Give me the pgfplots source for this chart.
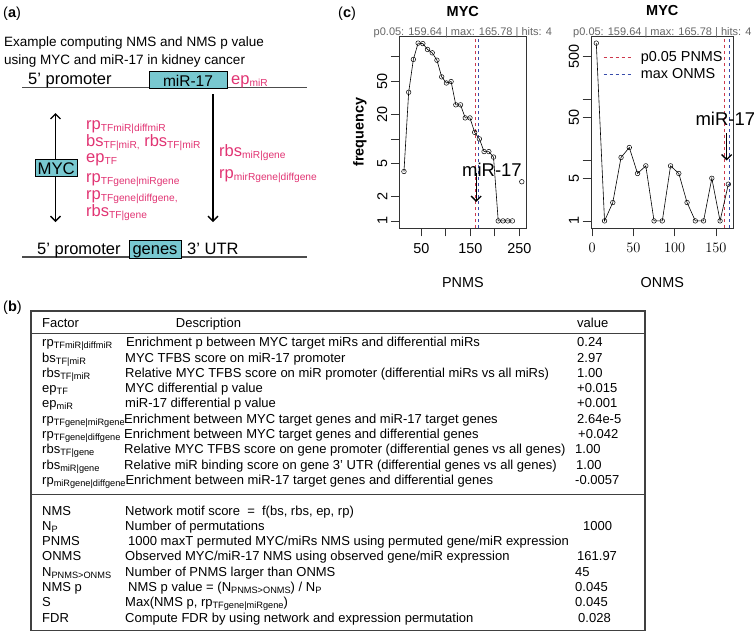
\documentclass[border=0pt]{standalone}
\usepackage{pgfplots}
\pgfplotsset{compat=1.18}
\usepackage{fontspec}
\setmainfont{Liberation Sans}
\usetikzlibrary{arrows.meta}
\definecolor{pk}{RGB}{225,52,115}
\definecolor{cy}{RGB}{120,200,208}
\definecolor{dred}{RGB}{205,55,75}
\definecolor{dblue}{RGB}{55,75,170}
\newcommand{\fs}[1]{\fontsize{#1}{#1}\selectfont}
\newcommand{\sa}[1]{\raisebox{-2.2pt}{\fs{10.2}#1}}
\newcommand{\st}[1]{\raisebox{-2pt}{\fs{9.2}#1}}
\pgfplotsset{rstyle/.style={
  scale only axis, height=192pt, yminorticks=false,
  tick pos=left, tick align=outside, major tick length=8.5pt,
  axis line style={black!80, line width=0.7pt},
  major tick style={black!80, line width=0.7pt},
  ticklabel style={font=\fs{14.4}},
  xticklabel style={yshift=-3pt},
  yticklabel style={rotate=90, anchor=south},
  clip=false}}
\begin{document}
\begin{tikzpicture}
\path[use as bounding box] (0pt,0pt) rectangle (754pt,-633pt);
\begin{scope}[x=1pt,y=-1pt, T/.style={inner sep=0pt, anchor=base west}, R/.style={T, font=\fs{13}}]
% ---------- (a)
\node[T] at (3,17.5) {\fs{14.5}(\textbf{a})};
\node[T] at (4,46) {\fs{13.5}Example computing NMS and NMS p value};
\node[T] at (4,64) {\fs{13.5}using MYC and miR-17 in kidney cancer};
\draw[line width=1.2pt, black!70] (22,87.5) -- (307,87.5);
\node[T] at (28,84) {\fs{16.5}5’ promoter};
\draw[fill=cy, line width=0.8pt] (149,71) rectangle (227,88);
\node[T, anchor=base] at (188,86) {\fs{15.5}miR-17};
\node[T, text=pk] at (231,84.5) {\fs{16.5}ep\sa{miR}};
\draw[line width=1.3pt, -{Straight Barb[length=5pt,width=10pt]}] (213,94) -- (213,222);
\draw[line width=1.3pt, -{Straight Barb[length=5pt,width=10pt]}] (55.5,159) -- (55.5,113);
\draw[line width=1.3pt, -{Straight Barb[length=5pt,width=10pt]}] (55.5,177) -- (55.5,222);
\draw[fill=cy, line width=0.9pt] (35,159.3) rectangle (77.3,176.7);
\node[T, anchor=base] at (56.2,174.2) {\fs{16.8}MYC};
\node[T, text=pk] at (86,129.5) {\fs{16.5}rp\sa{TFmiR|diffmiR}};
\node[T, text=pk] at (86,146.5) {\fs{16.5}bs\sa{TF|miR,} rbs\sa{TF|miR}};
\node[T, text=pk] at (86,162.5) {\fs{16.5}ep\sa{TF}};
\node[T, text=pk] at (86,182.5) {\fs{16.5}rp\sa{TFgene|miRgene}};
\node[T, text=pk] at (86,199) {\fs{16.5}rp\sa{TFgene|diffgene,}};
\node[T, text=pk] at (86,216.5) {\fs{16.5}rbs\sa{TF|gene}};
\node[T, text=pk] at (219,156.7) {\fs{16.5}rbs\sa{miR|gene}};
\node[T, text=pk] at (219,178.3) {\fs{16.5}rp\sa{mirRgene|diffgene}};
\draw[line width=1.2pt, black!70] (22,257) -- (307,257);
\node[T] at (37,254.5) {\fs{16.5}5’ promoter};
\draw[fill=cy, line width=0.8pt] (129,240) rectangle (181,258);
\node[T, anchor=base] at (155,254) {\fs{16.5}genes};
\node[T] at (187,254.5) {\fs{16.5}3’ UTR};
% ---------- (b)
\node[T] at (3,311) {\fs{14.5}(\textbf{b})};
\draw[line width=1.1pt, black!75] (31,311) rectangle (645,630.5);
\draw[line width=0.8pt, black!75] (31,333) -- (645,333);
\draw[line width=0.8pt, black!75] (31,494.5) -- (645,494.5);
\node[R] at (42,327.7) {Factor};
\node[R, anchor=base] at (208.5,327.7) {Description};
\node[R] at (577,327.7) {value};
\node[R] at (42,346.7) {rp\st{TFmiR|diffmiR}};
\node[R] at (126,346.7) {Enrichment p between MYC target miRs and differential miRs};
\node[R] at (577,346.7) {0.24};
\node[R] at (42,362) {bs\st{TF|miR}};
\node[R] at (125,362) {MYC TFBS score on miR-17 promoter};
\node[R] at (577,362) {2.97};
\node[R] at (42,377.3) {rbs\st{TF|miR}};
\node[R] at (125,377.3) {Relative MYC TFBS score on miR promoter (differential miRs vs all miRs)};
\node[R] at (577,377.3) {1.00};
\node[R] at (42,392.6) {ep\st{TF}};
\node[R] at (125,392.6) {MYC differential p value};
\node[R] at (577,392.6) {+0.015};
\node[R] at (42,407.9) {ep\st{miR}};
\node[R] at (125,407.9) {miR-17 differential p value};
\node[R] at (577,407.9) {+0.001};
\node[R] at (42,423.2) {rp\st{TFgene|miRgene}};
\node[R] at (124,423.2) {Enrichment between MYC target genes and miR-17 target genes};
\node[R] at (577,423.2) {2.64e-5};
\node[R] at (42,438.5) {rp\st{TFgene|diffgene}};
\node[R] at (124,438.5) {Enrichment between MYC target genes and differential genes};
\node[R] at (578,438.5) {+0.042};
\node[R] at (42,453.8) {rbs\st{TF|gene}};
\node[R] at (124,453.8) {Relative MYC TFBS score on gene promoter (differential genes vs all genes)};
\node[R] at (575,453.8) {1.00};
\node[R] at (42,469.1) {rbs\st{miR|gene}};
\node[R] at (124,469.1) {Relative miR binding score on gene 3’ UTR (differential genes vs all genes)};
\node[R] at (576,469.1) {1.00};
\node[R] at (42,484.4) {rp\st{miRgene|diffgene}Enrichment between miR-17 target genes and differential genes};
\node[R] at (575,484.4) {-0.0057};
\node[R] at (42,515) {NMS};
\node[R] at (125,515) {Network motif score \ = \ f(bs, rbs, ep, rp)};
\node[R] at (42,530.3) {N\st{P}};
\node[R] at (125,530.3) {Number of permutations};
\node[R] at (583,530.3) {1000};
\node[R] at (42,545.6) {PNMS};
\node[R] at (128,545.6) {1000 maxT permuted MYC/miRs NMS using permuted gene/miR expression};
\node[R] at (42,560.9) {ONMS};
\node[R] at (125,560.9) {Observed MYC/miR-17 NMS using observed gene/miR expression};
\node[R] at (577,560.9) {161.97};
\node[R] at (42,576.2) {N\st{PNMS>ONMS}};
\node[R] at (125,576.2) {Number of PNMS larger than ONMS};
\node[R] at (575,576.2) {45};
\node[R] at (42,591.5) {NMS p};
\node[R] at (128,591.5) {NMS p value = (N\st{PNMS>ONMS}) / N\st{P}};
\node[R] at (575,591.5) {0.045};
\node[R] at (42,606.8) {S};
\node[R] at (125,606.8) {Max(NMS p, rp\st{TFgene|miRgene})};
\node[R] at (575,606.8) {0.045};
\node[R] at (42,622.1) {FDR};
\node[R] at (125,622.1) {Compute FDR by using network and expression permutation};
\node[R] at (578,622.1) {0.028};
% ---------- (c)
\node[T] at (338,17.5) {\fs{14.5}(\textbf{c})};
\node[rotate=90, font=\bfseries\fs{14.4}] at (360,132) {frequency};
\end{scope}
% ---------- left plot
\begin{axis}[rstyle, ymode=log, at={(399.3pt,-228pt)}, anchor=south west, width=127pt,
  xmin=5.1, xmax=264.3, ymin=0.819, ymax=179.4,
  xtick={50,100,150,200,250}, xticklabels={50,,150,,250},
  ytick={1,2,5,10,20,50,100}, yticklabels={1,2,5,,20,50,}]
\addplot[black, line width=0.6pt, mark=o, mark size=2.3pt, mark options={fill=white, line width=0.5pt}] coordinates {
(14.6,4) (24.2,37) (33.8,93) (43.5,147) (53.1,145) (62.7,123) (72.3,112) (81.9,91)
(91.6,57) (101.2,48) (110.8,50) (120.4,26) (130.0,26) (139.7,18) (149.3,18) (158.9,12)
(168.5,10) (178.1,7) (187.8,7) (197.4,6) (207.0,1) (216.6,1) (226.2,1) (235.9,1)};
\addplot[black, only marks, mark=o, mark size=2.3pt, mark options={line width=0.5pt}] coordinates {(255.1,3)};
\addplot[dred, dashed, line width=0.7pt] coordinates {(159.64,0.819) (159.64,179.4)};
\addplot[dblue, dashed, line width=0.7pt] coordinates {(165.78,0.819) (165.78,179.4)};
\draw[line width=1.3pt, -{Straight Barb[length=5pt,width=10pt]}] (axis cs:161.97,3.8) -- (axis cs:161.97,1.7);
\node[anchor=base west, inner sep=0pt, font=\fs{18.5}] at (axis cs:133,3.43) {miR-17};
\node[font=\bfseries\fs{14.5}] at (rel axis cs:0.5,1) [yshift=25pt] {MYC};
\node[anchor=base, inner sep=0pt, font=\fs{11}, text=black!60] at (rel axis cs:0.5,1) [yshift=1pt] {p0.05: 159.64 | max: 165.78 | hits: 4};
\node[font=\fs{14.4}] at (rel axis cs:0.5,0) [yshift=-55pt] {PNMS};
\end{axis}
% ---------- right plot
\begin{axis}[rstyle, ymode=log, at={(591pt,-228pt)}, anchor=south west, width=142.6pt,
  xmin=-1.4, xmax=171.4, ymin=0.7643, ymax=1081,
  xtick={0,50,100,150},
  ytick={1,5,10,50,100,500}, yticklabels={1,5,,50,,500},
  legend style={at={(rel axis cs:0.084,0.93)}, anchor=north west, draw=none, fill=none,
    font=\fs{14.4}, row sep=1.5pt, inner sep=0pt,
    /tikz/every odd column/.append style={column sep=6pt}},
  legend cell align=left,
  legend image code/.code={\draw[#1] (0pt,0pt) -- (29pt,0pt);}]
\addplot[dred, dashed, line width=0.7pt] coordinates {(159.64,0.7643) (159.64,1081)};
\addlegendentry{p0.05 PNMS}
\addplot[dblue, dashed, line width=0.7pt] coordinates {(165.78,0.7643) (165.78,1081)};
\addlegendentry{max ONMS}
\addplot[black, line width=0.6pt, mark=o, mark size=2.3pt, mark options={fill=white, line width=0.5pt}, forget plot] coordinates {
(5,826) (15,1) (25,2) (35,11) (45,16) (55,6) (65,8) (75,1) (85,1) (95,8) (105,6)
(115,2) (125,1) (135,1) (145,5) (155,1) (165,4)};
\draw[line width=1.3pt, -{Straight Barb[length=5pt,width=10pt]}] (axis cs:163,27.3) -- (axis cs:163,9.8);
\node[anchor=base west, inner sep=0pt, font=\fs{18.5}] at (axis cs:125,36.9) {miR-17};
\node[font=\bfseries\fs{14.5}] at (rel axis cs:0.5,1) [yshift=25pt] {MYC};
\node[anchor=base, inner sep=0pt, font=\fs{11}, text=black!60] at (rel axis cs:0.5,1) [yshift=1pt] {p0.05: 159.64 | max: 165.78 | hits: 4};
\node[font=\fs{14.4}] at (rel axis cs:0.5,0) [yshift=-55pt] {ONMS};
\end{axis}
\end{tikzpicture}
\end{document}
